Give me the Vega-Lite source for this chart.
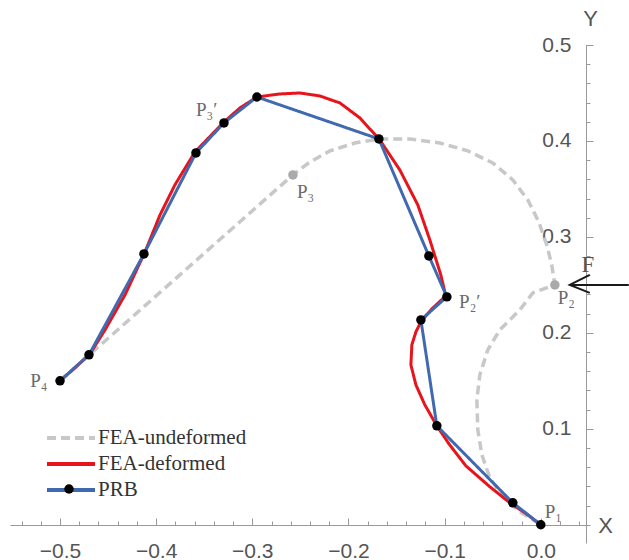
{
  "$schema": "https://vega.github.io/schema/vega-lite/v6.json",
  "width": 576,
  "height": 498,
  "autosize": {"type": "none"},
  "padding": {"left": 10, "top": 45, "right": 43, "bottom": 17},
  "background": "white",
  "config": {"view": {"stroke": null}, "font": "Liberation Sans"},
  "datasets": {
    "curves": [
      {"series": "FEA-undeformed", "i": 1, "x": -0.5, "y": 0.15},
      {"series": "FEA-undeformed", "i": 2, "x": -0.2578, "y": 0.3646},
      {"series": "FEA-undeformed", "i": 3, "x": -0.2401, "y": 0.3781},
      {"series": "FEA-undeformed", "i": 4, "x": -0.2193, "y": 0.3896},
      {"series": "FEA-undeformed", "i": 5, "x": -0.1933, "y": 0.3979},
      {"series": "FEA-undeformed", "i": 6, "x": -0.1674, "y": 0.4021},
      {"series": "FEA-undeformed", "i": 7, "x": -0.1362, "y": 0.4021},
      {"series": "FEA-undeformed", "i": 8, "x": -0.105, "y": 0.3979},
      {"series": "FEA-undeformed", "i": 9, "x": -0.0759, "y": 0.3896},
      {"series": "FEA-undeformed", "i": 10, "x": -0.0499, "y": 0.3771},
      {"series": "FEA-undeformed", "i": 11, "x": -0.0291, "y": 0.3594},
      {"series": "FEA-undeformed", "i": 12, "x": -0.0135, "y": 0.3385},
      {"series": "FEA-undeformed", "i": 13, "x": -0.0021, "y": 0.3156},
      {"series": "FEA-undeformed", "i": 14, "x": 0.0062, "y": 0.2917},
      {"series": "FEA-undeformed", "i": 15, "x": 0.0114, "y": 0.2708},
      {"series": "FEA-undeformed", "i": 16, "x": 0.0146, "y": 0.25},
      {"series": "FEA-undeformed", "i": 17, "x": -0.0083, "y": 0.2417},
      {"series": "FEA-undeformed", "i": 18, "x": -0.0218, "y": 0.224},
      {"series": "FEA-undeformed", "i": 19, "x": -0.0426, "y": 0.2031},
      {"series": "FEA-undeformed", "i": 20, "x": -0.0551, "y": 0.1823},
      {"series": "FEA-undeformed", "i": 21, "x": -0.0634, "y": 0.1563},
      {"series": "FEA-undeformed", "i": 22, "x": -0.0665, "y": 0.1302},
      {"series": "FEA-undeformed", "i": 23, "x": -0.0655, "y": 0.099},
      {"series": "FEA-undeformed", "i": 24, "x": -0.0613, "y": 0.0729},
      {"series": "FEA-undeformed", "i": 25, "x": -0.053, "y": 0.049},
      {"series": "FEA-undeformed", "i": 26, "x": -0.0395, "y": 0.0292},
      {"series": "FEA-undeformed", "i": 27, "x": -0.0218, "y": 0.0135},
      {"series": "FEA-undeformed", "i": 28, "x": 0.0, "y": 0.0},
      {"series": "FEA-deformed", "i": 1, "x": 0.0, "y": 0.0},
      {"series": "FEA-deformed", "i": 2, "x": -0.0166, "y": 0.0125},
      {"series": "FEA-deformed", "i": 3, "x": -0.0322, "y": 0.0229},
      {"series": "FEA-deformed", "i": 4, "x": -0.053, "y": 0.0396},
      {"series": "FEA-deformed", "i": 5, "x": -0.078, "y": 0.0615},
      {"series": "FEA-deformed", "i": 6, "x": -0.0956, "y": 0.0844},
      {"series": "FEA-deformed", "i": 7, "x": -0.1081, "y": 0.1031},
      {"series": "FEA-deformed", "i": 8, "x": -0.1206, "y": 0.125},
      {"series": "FEA-deformed", "i": 9, "x": -0.1299, "y": 0.1458},
      {"series": "FEA-deformed", "i": 10, "x": -0.1351, "y": 0.1667},
      {"series": "FEA-deformed", "i": 11, "x": -0.1341, "y": 0.1875},
      {"series": "FEA-deformed", "i": 12, "x": -0.1299, "y": 0.201},
      {"series": "FEA-deformed", "i": 13, "x": -0.1247, "y": 0.2115},
      {"series": "FEA-deformed", "i": 14, "x": -0.1133, "y": 0.225},
      {"series": "FEA-deformed", "i": 15, "x": -0.0988, "y": 0.2385},
      {"series": "FEA-deformed", "i": 16, "x": -0.104, "y": 0.2604},
      {"series": "FEA-deformed", "i": 17, "x": -0.1154, "y": 0.2969},
      {"series": "FEA-deformed", "i": 18, "x": -0.1279, "y": 0.3333},
      {"series": "FEA-deformed", "i": 19, "x": -0.1466, "y": 0.3698},
      {"series": "FEA-deformed", "i": 20, "x": -0.1674, "y": 0.401},
      {"series": "FEA-deformed", "i": 21, "x": -0.1881, "y": 0.424},
      {"series": "FEA-deformed", "i": 22, "x": -0.2089, "y": 0.4396},
      {"series": "FEA-deformed", "i": 23, "x": -0.2297, "y": 0.4469},
      {"series": "FEA-deformed", "i": 24, "x": -0.2505, "y": 0.45},
      {"series": "FEA-deformed", "i": 25, "x": -0.2713, "y": 0.449},
      {"series": "FEA-deformed", "i": 26, "x": -0.2952, "y": 0.4458},
      {"series": "FEA-deformed", "i": 27, "x": -0.3129, "y": 0.4344},
      {"series": "FEA-deformed", "i": 28, "x": -0.3295, "y": 0.4198},
      {"series": "FEA-deformed", "i": 29, "x": -0.3597, "y": 0.3885},
      {"series": "FEA-deformed", "i": 30, "x": -0.3805, "y": 0.3542},
      {"series": "FEA-deformed", "i": 31, "x": -0.396, "y": 0.3229},
      {"series": "FEA-deformed", "i": 32, "x": -0.4116, "y": 0.2844},
      {"series": "FEA-deformed", "i": 33, "x": -0.4324, "y": 0.2396},
      {"series": "FEA-deformed", "i": 34, "x": -0.4532, "y": 0.2031},
      {"series": "FEA-deformed", "i": 35, "x": -0.4688, "y": 0.1781},
      {"series": "FEA-deformed", "i": 36, "x": -0.4844, "y": 0.1635},
      {"series": "FEA-deformed", "i": 37, "x": -0.5, "y": 0.15},
      {"series": "PRB", "i": 1, "x": 0.0, "y": 0.0},
      {"series": "PRB", "i": 2, "x": -0.0291, "y": 0.0229},
      {"series": "PRB", "i": 3, "x": -0.1081, "y": 0.1031},
      {"series": "PRB", "i": 4, "x": -0.1247, "y": 0.2135},
      {"series": "PRB", "i": 5, "x": -0.0977, "y": 0.2375},
      {"series": "PRB", "i": 6, "x": -0.1164, "y": 0.2802},
      {"series": "PRB", "i": 7, "x": -0.1684, "y": 0.4021},
      {"series": "PRB", "i": 8, "x": -0.2952, "y": 0.4458},
      {"series": "PRB", "i": 9, "x": -0.3295, "y": 0.4188},
      {"series": "PRB", "i": 10, "x": -0.3586, "y": 0.3875},
      {"series": "PRB", "i": 11, "x": -0.4127, "y": 0.2823},
      {"series": "PRB", "i": 12, "x": -0.4699, "y": 0.1771},
      {"series": "PRB", "i": 13, "x": -0.5, "y": 0.15}
    ],
    "graypts": [
      {"name": "P2", "x": 0.0146, "y": 0.25},
      {"name": "P3", "x": -0.2578, "y": 0.3646}
    ],
    "labels": [
      {"t": "P₁", "x": 0.004, "y": 0.0135},
      {"t": "P₂", "x": 0.0175, "y": 0.236},
      {"t": "P₂′", "x": -0.085, "y": 0.232},
      {"t": "P₃", "x": -0.2536, "y": 0.347},
      {"t": "P₃′", "x": -0.3586, "y": 0.432},
      {"t": "P₄", "x": -0.531, "y": 0.15}
    ],
    "force": [
      {"seg": "shaft", "i": 1, "x": 0.0301, "y": 0.25},
      {"seg": "shaft", "i": 2, "x": 0.0915, "y": 0.25},
      {"seg": "head", "i": 1, "x": 0.0509, "y": 0.2604},
      {"seg": "head", "i": 2, "x": 0.0301, "y": 0.25},
      {"seg": "head", "i": 3, "x": 0.0509, "y": 0.2417}
    ],
    "forcelabel": [{"t": "F", "x": 0.049, "y": 0.271}]
  },
  "resolve": {"axis": {"x": "independent", "y": "independent"}},
  "layer": [
    {
      "data": {"name": "curves"},
      "transform": [{"filter": "datum.series === 'FEA-undeformed'"}],
      "mark": {"type": "line", "strokeWidth": 3.5},
      "encoding": {
        "x": {"field": "x", "type": "quantitative",
          "scale": {"domain": [-0.552, 0.047], "nice": false, "zero": false},
          "axis": {"orient": "bottom", "offset": -18, "values": [-0.5, -0.4, -0.3, -0.2, -0.1, 0],
            "format": ".1f", "tickSize": -7, "labelPadding": 22, "grid": false,
            "domainColor": "#9a9a9a", "tickColor": "#9a9a9a", "labelColor": "#555555",
            "labelFontSize": 21, "labelFont": "Liberation Sans", "labelFlush": false,
            "title": "X", "titleX": 595, "titleY": 0, "titleBaseline": "middle", "titleAlign": "center",
            "titleAngle": 0, "titleFontSize": 22, "titleFontWeight": "normal", "titleColor": "#555555",
            "titleFont": "Liberation Sans"}},
        "y": {"field": "y", "type": "quantitative",
          "scale": {"domain": [-0.019, 0.5], "nice": false, "zero": false},
          "axis": {"orient": "right", "values": [0.1, 0.2, 0.3, 0.4, 0.5], "format": ".1f",
            "tickSize": 7, "labelPadding": -22, "labelAlign": "right", "labelBaseline": "middle",
            "grid": false, "domainColor": "#9a9a9a", "tickColor": "#9a9a9a", "labelColor": "#555555",
            "labelFontSize": 21, "labelFont": "Liberation Sans", "labelFlush": false,
            "title": "Y", "titleX": 4, "titleY": -27, "titleAngle": 0, "titleAlign": "center",
            "titleBaseline": "middle", "titleFontSize": 22, "titleFontWeight": "normal",
            "titleColor": "#555555", "titleFont": "Liberation Sans"}},
        "order": {"field": "i", "type": "quantitative"},
        "color": {"field": "series", "type": "nominal",
          "scale": {"domain": ["FEA-undeformed", "FEA-deformed", "PRB"], "range": ["#c8c8c8", "#e8141c", "#4169b0"]},
          "legend": {"orient": "none", "legendX": 47, "legendY": 379, "title": null,
            "symbolType": "M-2,0H2", "symbolStrokeWidth": 4, "symbolSize": 576,
            "symbolFillColor": "transparent",
            "labelFont": "Liberation Serif", "labelFontSize": 21, "labelColor": "#333333",
            "rowPadding": 2, "labelOffset": 13}},
        "strokeDash": {"field": "series", "type": "nominal",
          "scale": {"domain": ["FEA-undeformed", "FEA-deformed", "PRB"], "range": [[9, 5], [1, 0], [1, 0]]}}
      }
    },
    {
      "data": {"name": "curves"},
      "transform": [{"filter": "datum.series === 'FEA-deformed'"}],
      "mark": {"type": "line", "strokeWidth": 3},
      "encoding": {
        "x": {"field": "x", "type": "quantitative",
          "axis": {"orient": "bottom", "offset": -18,
            "values": [-0.54, -0.52, -0.5, -0.48, -0.46, -0.44, -0.42, -0.4, -0.38, -0.36, -0.34, -0.32, -0.3, -0.28, -0.26, -0.24, -0.22, -0.2, -0.18, -0.16, -0.14, -0.12, -0.1, -0.08, -0.06, -0.04, -0.02, 0, 0.02, 0.04],
            "tickSize": -4, "labels": false, "domain": false, "grid": false, "title": null, "tickColor": "#9a9a9a"}},
        "y": {"field": "y", "type": "quantitative",
          "axis": {"orient": "right",
            "values": [-0.02, 0, 0.02, 0.04, 0.06, 0.08, 0.1, 0.12, 0.14, 0.16, 0.18, 0.2, 0.22, 0.24, 0.26, 0.28, 0.3, 0.32, 0.34, 0.36, 0.38, 0.4, 0.42, 0.44, 0.46, 0.48, 0.5],
            "tickSize": 4, "labels": false, "domain": false, "grid": false, "title": null, "tickColor": "#9a9a9a"}},
        "order": {"field": "i", "type": "quantitative"},
        "color": {"field": "series", "type": "nominal"},
        "strokeDash": {"field": "series", "type": "nominal"}
      }
    },
    {
      "data": {"name": "curves"},
      "transform": [{"filter": "datum.series === 'PRB'"}],
      "mark": {"type": "line", "strokeWidth": 3},
      "encoding": {
        "x": {"field": "x", "type": "quantitative", "axis": null},
        "y": {"field": "y", "type": "quantitative", "axis": null},
        "order": {"field": "i", "type": "quantitative"},
        "color": {"field": "series", "type": "nominal"},
        "strokeDash": {"field": "series", "type": "nominal"}
      }
    },
    {
      "data": {"name": "curves"},
      "transform": [{"filter": "datum.series === 'PRB'"}],
      "mark": {"type": "point", "filled": true, "size": 90, "opacity": 1},
      "encoding": {
        "x": {"field": "x", "type": "quantitative", "axis": null},
        "y": {"field": "y", "type": "quantitative", "axis": null},
        "fill": {"field": "series", "type": "nominal",
          "scale": {"domain": ["PRB"], "range": ["#000000"]},
          "legend": {"orient": "none", "legendX": 54, "legendY": 439, "title": null,
            "symbolType": "circle", "symbolSize": 90, "symbolStrokeWidth": 0,
            "labelExpr": "''", "labelFontSize": 1}}
      }
    },
    {
      "data": {"name": "graypts"},
      "mark": {"type": "point", "filled": true, "size": 90, "color": "#aaaaaa", "opacity": 1},
      "encoding": {
        "x": {"field": "x", "type": "quantitative", "axis": null},
        "y": {"field": "y", "type": "quantitative", "axis": null}
      }
    },
    {
      "data": {"name": "force"},
      "mark": {"type": "line", "color": "#1a1a1a", "strokeWidth": 2},
      "encoding": {
        "x": {"field": "x", "type": "quantitative", "axis": null},
        "y": {"field": "y", "type": "quantitative", "axis": null},
        "detail": {"field": "seg", "type": "nominal"},
        "order": {"field": "i", "type": "quantitative"}
      }
    },
    {
      "data": {"name": "labels"},
      "mark": {"type": "text", "font": "Liberation Serif", "fontSize": 19, "color": "#6a6a6a", "align": "left", "baseline": "middle"},
      "encoding": {
        "x": {"field": "x", "type": "quantitative", "axis": null},
        "y": {"field": "y", "type": "quantitative", "axis": null},
        "text": {"field": "t", "type": "nominal"}
      }
    },
    {
      "data": {"name": "forcelabel"},
      "mark": {"type": "text", "font": "Liberation Serif", "fontSize": 23, "color": "#555555", "align": "center", "baseline": "middle"},
      "encoding": {
        "x": {"field": "x", "type": "quantitative", "axis": null},
        "y": {"field": "y", "type": "quantitative", "axis": null},
        "text": {"field": "t", "type": "nominal"}
      }
    }
  ]
}
